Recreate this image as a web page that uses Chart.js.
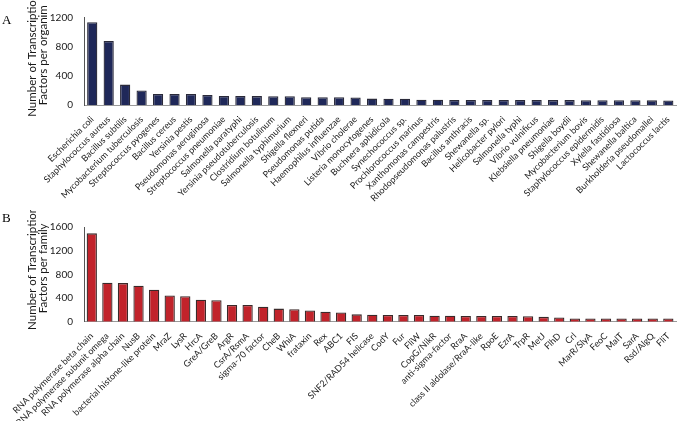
<!DOCTYPE html>
<html><head><meta charset="utf-8">
<script src="https://cdn.jsdelivr.net/npm/chart.js@4"></script>
<style>
html,body{margin:0;padding:0;background:#fff;}
#wrap{position:relative;width:685px;height:421px;overflow:hidden;background:#fff;}
.panel{position:absolute;left:0;}
.lbl{position:absolute;font-family:"Liberation Serif",serif;font-size:13px;color:#000;line-height:13px;}
</style></head><body>
<div id="wrap">
<div class="panel" style="top:0;width:685px;height:210px"><canvas id="cA" width="685" height="210"></canvas></div>
<div class="panel" style="top:210px;width:685px;height:211px"><canvas id="cB" width="685" height="211"></canvas></div>
<div class="lbl" style="left:2px;top:13px">A</div>
<div class="lbl" style="left:2px;top:211px">B</div>
</div>
<script>
const organisms = ["Escherichia coli","Staphylococcus aureus","Bacillus subtilis","Mycobacterium tuberculosis","Streptococcus pyogenes","Bacillus cereus","Yersinia pestis","Pseudomonas aeruginosa","Streptococcus pneumoniae","Salmonella paratyphi","Yersinia pseudotuberculosis","Clostridium botulinum","Salmonella typhimurium","Shigella flexneri","Pseudomonas putida","Haemophilus influenzae","Vibrio cholerae","Listeria monocytogenes","Buchnera aphidicola","Synechococcus sp.","Prochlorococcus marinus","Xanthomonas campestris","Rhodopseudomonas palustris","Bacillus anthracis","Shewanella sp.","Helicobacter pylori","Salmonella typhi","Vibrio vulnificus","Klebsiella pneumoniae","Shigella boydii","Mycobacterium bovis","Staphylococcus epidermidis","Xylella fastidiosa","Shewanella baltica","Burkholderia pseudomallei","Lactococcus lactis"];
const organismCounts = [1136,877,280,198,150,150,150,137,125,123,122,121,120,108,107,106,104,88,86,85,72,71,70,70,69,69,68,68,67,67,66,66,65,65,64,63];
const families = ["RNA polymerase beta chain","RNA polymerase subunit omega","RNA polymerase alpha chain","NusB","bacterial histone-like protein","MraZ","LysR","HrcA","GreA/GreB","ArgR","CsrA/RsmA","sigma-70 factor","CheB","WhiA","frataxin","Rex","ABC1","FIS","SNF2/RAD54 helicase","CodY","Fur","FliW","CopG/NikR","anti-sigma-factor","RraA","class II aldolase/RraA-like","RpoE","EzrA","TrpR","MetJ","FlhD","Crl","MarR/SlyA","FeoC","MalT","SarA","Rsd/AlgQ","FliT"];
const familyCounts = [1493,657,652,607,540,442,431,372,362,284,281,254,221,210,188,167,156,124,118,113,113,113,102,102,97,97,96,96,92,82,72,56,55,55,55,55,55,55];
const yTicksA = [0,400,800,1200];
const yTicksB = [0,400,800,1200,1600];
const yTitleA = ['Number of Transcription','Factors per organim'];
const yTitleB = ['Number of Transcription','Factors per family'];

const FONT = "Lato, 'Open Sans', sans-serif";

const yTitlePlugin = {
  id: 'yTitle',
  afterDraw(chart, args, opts) {
    const ctx = chart.ctx;
    const ca = chart.chartArea;
    const cy = (ca.top + ca.bottom) / 2 + opts.dy;
    ctx.save();
    ctx.font = '11.5px ' + FONT;
    ctx.fillStyle = '#1a1a1a';
    ctx.textAlign = 'center';
    ctx.textBaseline = 'middle';
    opts.lines.forEach((line, i) => {
      ctx.save();
      ctx.translate(opts.x + i * opts.lh, cy);
      ctx.rotate(-Math.PI / 2);
      ctx.fillText(line, 0, 0);
      ctx.restore();
    });
    ctx.restore();
  }
};

function makeChart(id, labels, data, ticks, titleLines, fill, border, barPct, padTop, padRight, xHeight) {
  const maxV = ticks[ticks.length-1];
  const step = ticks[1]-ticks[0];
  return new Chart(document.getElementById(id), {
    type: 'bar',
    plugins: [yTitlePlugin],
    data: { labels: labels, datasets: [{ data: data, backgroundColor: fill, borderColor: border, borderWidth: 1.3, barPercentage: barPct, categoryPercentage: 1 }] },
    options: {
      responsive: false, animation: false,
      layout: { padding: { top: padTop, right: padRight, left: 0, bottom: 0 } },
      plugins: { legend: { display: false }, tooltip: { enabled: false },
        yTitle: { lines: titleLines, x: 32, lh: 11, dy: -6 } },
      scales: {
        x: {
          grid: { display: false, drawTicks: false },
          border: { color: '#9a9a9a', width: 1 },
          ticks: { autoSkip: false, minRotation: 45, maxRotation: 45, padding: 9, color: '#1a1a1a', font: { family: FONT, size: 9 } },
          afterFit: s => { s.height = xHeight; }
        },
        y: {
          min: 0, max: maxV,
          grid: { display: false, drawTicks: false },
          border: { color: '#555', width: 1 },
          ticks: { stepSize: step, padding: 11, color: '#1a1a1a', font: { family: FONT, size: 10 }, callback: v => String(v) },
          afterFit: s => { s.width = 84; }
        }
      }
    }
  });
}

makeChart('cA', organisms, organismCounts, yTicksA, yTitleA, '#1f2859', '#2a2a3a', 0.62, 17.5, 3, 105);
makeChart('cB', families, familyCounts, yTicksB, yTitleB, '#c1232b', '#3a2a2a', 0.66, 12.7, 2.5, 99.3);
</script>
</body></html>
